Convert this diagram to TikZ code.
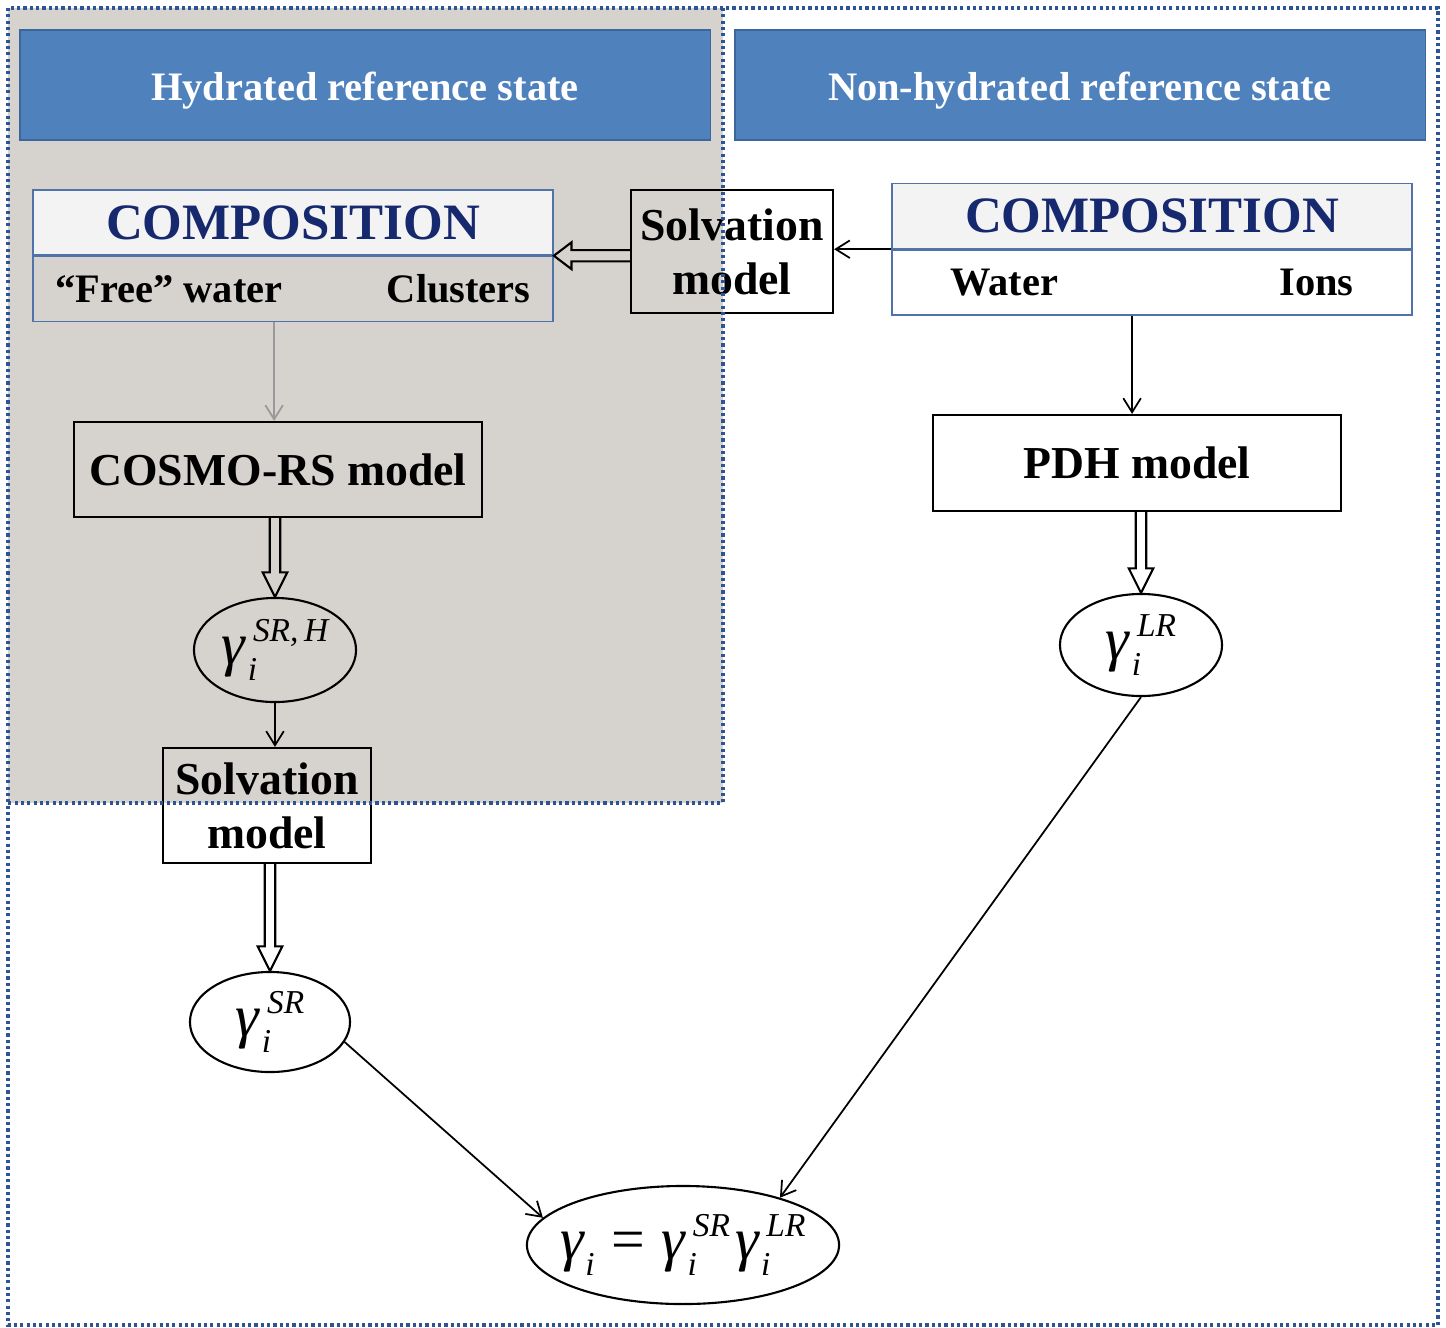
\documentclass[tikz,border=0pt]{standalone}
\usepackage{fontspec}
\setmainfont{Liberation Serif}
\usetikzlibrary{shapes,arrows.meta,positioning,calc}

\definecolor{bggray}{RGB}{214,211,206}
\definecolor{headblue}{RGB}{79,129,189}
\definecolor{headedge}{RGB}{62,102,158}
\definecolor{framedot}{RGB}{45,85,150}
\definecolor{compedge}{RGB}{80,115,170}
\definecolor{compnavy}{RGB}{22,40,110}
\definecolor{comptop}{RGB}{243,243,243}

\newcommand{\scfont}{\fontsize{9.5}{9.5}\selectfont\itshape}
\newcommand{\gam}[1]{\textit{γ}\kern0.3pt\rlap{\raisebox{-4.5pt}{\scfont i}}\kern1.5pt\raisebox{6.5pt}{\scfont #1}}
\newcommand{\fatdown}[2]{\draw[fatarrow] let \p1=(#1), \p2=(#2) in (\x2-1.5pt,\y1) -- (\x2-1.5pt,\y2+7pt) -- (\x2-3.5pt,\y2+7pt) -- (\x2,\y2) -- (\x2+3.5pt,\y2+7pt) -- (\x2+1.5pt,\y2+7pt) -- (\x2+1.5pt,\y1);}
\newcommand{\fatleft}[2]{\draw[fatarrow] let \p1=(#1), \p2=(#2) in (\x1,\y2+1.6pt) -- (\x2+5pt,\y2+1.6pt) -- (\x2+5pt,\y2+3.8pt) -- (\x2,\y2) -- (\x2+5pt,\y2-3.8pt) -- (\x2+5pt,\y2-1.6pt) -- (\x1,\y2-1.6pt);}

\tikzset{
  header/.style={draw=headedge,fill=headblue,text=white,font=\fontsize{11.5}{12}\selectfont\bfseries,minimum width=6.9cm,minimum height=1.1cm,inner sep=0pt,text height=9pt,text depth=0pt},
  comptitle/.style={draw=compedge,fill=comptop,text=compnavy,font=\fontsize{14.5}{15}\selectfont\bfseries,minimum width=5.2cm,minimum height=0.65cm,inner sep=0pt},
  compparts/.style={draw=compedge,font=\fontsize{11.5}{12}\selectfont\bfseries,minimum width=5.2cm,minimum height=0.65cm,inner sep=0pt},
  modelbox/.style={draw,line width=0.6pt,font=\fontsize{13}{15.3}\selectfont\bfseries,align=center,inner sep=0pt},
  gambox/.style={ellipse,draw,line width=0.6pt,font=\fontsize{17}{17}\selectfont,inner sep=0pt},
  thinarrow/.style={-{Straight Barb[length=4pt,width=5pt]},line width=0.5pt},
  fatarrow/.style={line width=0.6pt,line join=miter},
  dotframe/.style={draw=framedot,line width=0.9pt,dash pattern=on 0.9pt off 0.9pt}
}

\begin{document}
\begin{tikzpicture}[x=0.01cm,y=-0.01cm]
\useasboundingbox (0,0) rectangle (1446,1327);
\fill[bggray] (8,8) rectangle (723,803);

\node[header] at (365,85) (hydHead) {Hydrated reference state};
\node[header] at (1080,85) (nonHead) {Non-hydrated reference state};

\node[comptitle] at (293,222.5) (compL) {COMPOSITION};
\node[compparts,below=0pt of compL] (compLw) {\makebox[4.75cm]{“Free” water\hfill Clusters}};
\node[comptitle] at (1152,216) (compR) {COMPOSITION};
\node[compparts,fill=white,below=0pt of compR] (compRw) {\makebox[4.03cm]{Water\hfill Ions}};

\node[modelbox,minimum width=2.02cm,minimum height=1.23cm] at (732,251.5) (solvTop) {Solvation\\model};
\node[modelbox,minimum width=4.08cm,minimum height=0.95cm] at (278,469.5) (cosmo) {COSMO-RS model};
\node[modelbox,minimum width=4.08cm,minimum height=0.96cm] at (1137,463) (pdh) {PDH model};
\node[modelbox,minimum width=2.08cm,minimum height=1.15cm] at (267,805.5) (solvLow) {Solvation\\model};

\node[gambox,minimum width=1.62cm,minimum height=1.04cm] at (275,650) (gSRH) {\gam{SR,\,H}};
\node[gambox,minimum width=1.6cm,minimum height=1.0cm] at (270,1022) (gSR) {\gam{SR}};
\node[gambox,minimum width=1.62cm,minimum height=1.02cm] at (1141,645) (gLR) {\gam{LR}};
\node[gambox,minimum width=3.12cm,minimum height=1.18cm] at (683,1245) (final) {\makebox[1.9cm][c]{\textit{γ}\raisebox{-4.5pt}{\scfont i}\;=\;\gam{SR}\kern1.5pt\gam{LR}}};

\draw[thinarrow] (compR.south west) -- (compR.south west -| solvTop.east);
\draw[thinarrow,draw=gray!80] ([xshift=-1.1pt]cosmo.north |- compLw.south) -- ([xshift=-1.1pt]cosmo.north);
\draw[thinarrow] ([xshift=-1.4pt]pdh.north |- compRw.south) -- ([xshift=-1.4pt]pdh.north);
\draw[thinarrow] (gSRH.south) -- (solvLow.north -| gSRH.south);
\draw[thinarrow] (gSR.-15) -- (final.169);
\draw[thinarrow] (gLR.south) -- (final.26);

\fatleft{solvTop.west}{compL.south east}
\fatdown{cosmo.south}{gSRH.north}
\fatdown{solvLow.south}{gSR.north}
\fatdown{pdh.south}{gLR.north}

\draw[dotframe] (8,8) rectangle (1438,1325);
\draw[dotframe] (723,8) -- (723,803) -- (8,803);
\end{tikzpicture}
\end{document}
